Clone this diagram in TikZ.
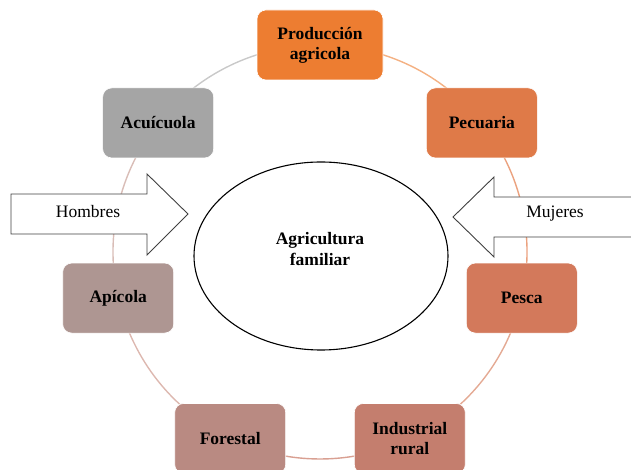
\documentclass[tikz,border=0pt]{standalone}
\usepackage{fontspec}
\setmainfont{Liberation Serif}
\usetikzlibrary{backgrounds,shapes.geometric}

\definecolor{prodcol}{HTML}{ED7D31}
\definecolor{pecucol}{HTML}{DF7A48}
\definecolor{pesccol}{HTML}{D3795B}
\definecolor{inducol}{HTML}{C47E6E}
\definecolor{forecol}{HTML}{B98A82}
\definecolor{apiccol}{HTML}{AE9692}
\definecolor{acuicol}{HTML}{A5A5A5}
\definecolor{prodarc}{HTML}{F4B183}
\definecolor{pecuarc}{HTML}{EBA27F}
\definecolor{pescarc}{HTML}{E4AA94}
\definecolor{induarc}{HTML}{D9A092}
\definecolor{forearc}{HTML}{DDB8B0}
\definecolor{apicarc}{HTML}{D9BDB7}
\definecolor{acuiarc}{HTML}{C9C9C9}

\tikzset{
	sector/.style={draw=white, line width=0.6pt, rounded corners=9pt,
		minimum width=111pt, minimum height=70pt, inner sep=2pt,
		align=center, font=\fontsize{17.5}{20}\selectfont\bfseries},
	ring/.style={line width=1.4pt, bend left=25.7, looseness=0.9},
	flecha/.style={draw=black!75, fill=white, line width=0.9pt},
	rotulo/.style={font=\fontsize{17.5}{20}\selectfont},
}

\begin{document}
\begin{tikzpicture}[x=1pt,y=1pt]
	\useasboundingbox (0,0) rectangle (631,470);
	\clip (0,0) rectangle (631,470);
	\coordinate (ctr) at (320,218);
	% sectores del ciclo
	\node[sector, fill=prodcol, minimum width=126pt] (prod) at ([shift={(90:207)}]ctr) {Producción\\agricola};
	\node[sector, fill=pecucol] (pecu) at ([shift={(38.57:207)}]ctr) {Pecuaria};
	\node[sector, fill=pesccol] (pesc) at ([shift={(-12.86:207)}]ctr) {Pesca};
	\node[sector, fill=inducol] (indu) at ([shift={(-64.29:207)}]ctr) {Industrial\\rural};
	\node[sector, fill=forecol] (fore) at ([shift={(-115.71:207)}]ctr) {Forestal};
	\node[sector, fill=apiccol] (apic) at ([shift={(-167.14:207)}]ctr) {Apícola};
	\node[sector, fill=acuicol] (acui) at ([shift={(141.43:207)}]ctr) {Acuícuola};
	\begin{pgfonlayer}{background}
		\draw[ring, draw=prodarc] (prod.center) to (pecu.center);
		\draw[ring, draw=pecuarc] (pecu.center) to (pesc.center);
		\draw[ring, draw=pescarc] (pesc.center) to (indu.center);
		\draw[ring, draw=induarc] (indu.center) to (fore.center);
		\draw[ring, draw=forearc] (fore.center) to (apic.center);
		\draw[ring, draw=apicarc] (apic.center) to (acui.center);
		\draw[ring, draw=acuiarc] (acui.center) to (prod.center);
	\end{pgfonlayer}
	% flechas
	\draw[flecha] (11,276) -- (147,276) -- (147,296) -- (188,256) -- (147,215)
		-- (147,236) -- (11,236) -- cycle;
	\node[rotulo] (hombres) at (88,258) {Hombres};
	\draw[flecha] (640,273) -- (494,273) -- (494,293) -- (453,253) -- (494,213)
		-- (494,233) -- (640,233) -- cycle;
	\node[rotulo] (mujeres) at (555,256) {Mujeres};
	% centro
	\node[ellipse, draw, fill=white, line width=1.1pt, minimum width=254pt,
		minimum height=188pt] (agri) at (321,214) {};
	\node[align=center, font=\fontsize{17.5}{21}\selectfont\bfseries] (agritxt)
		at (320,221) {Agricultura\\familiar};
\end{tikzpicture}
\end{document}
